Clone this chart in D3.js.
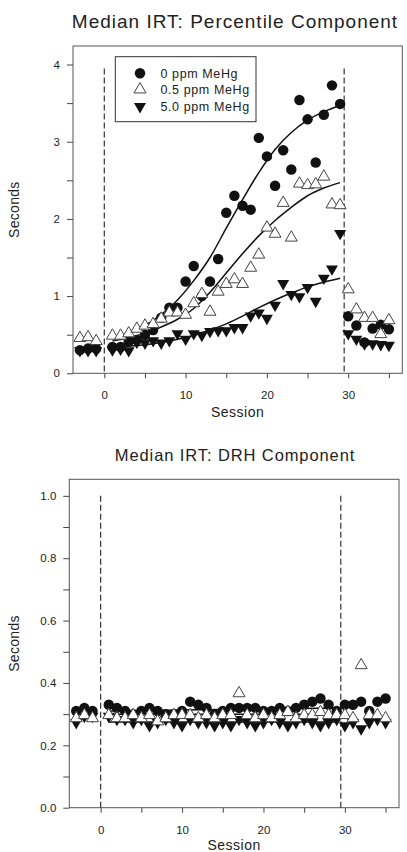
<!DOCTYPE html>
<html>
<head>
<meta charset="utf-8">
<script src="https://cdn.jsdelivr.net/npm/d3@7"></script>
<style>
  body { margin: 0; background: #fff; }
  svg { display: block; font-family: "Liberation Sans", Arial, sans-serif; }
  .tick text { font-size: 11.5px; fill: #222; }
  .tick line { stroke: #444; }
</style>
</head>
<body>
<svg width="407" height="852"></svg>
<script>
// sessions: 3 baseline, 29 exposure, 6 recovery
var sessions = [-3,-2,-1, 1,2,3,4,5,6,7,8,9,10,11,12,13,14,15,16,17,18,19,20,21,22,23,24,25,26,27,28,29, 30,31,32,33,34,35];

// Percentile component, median IRT (s)
var pctControl = [0.30,0.32,0.32, 0.34,0.34,0.41,0.43,0.50,0.56,0.72,0.85,0.85,1.19,1.39,1.00,1.19,1.48,2.08,2.30,2.17,2.12,3.05,2.81,2.43,2.89,2.64,3.54,3.29,2.73,3.35,3.73,3.49, 0.74,0.62,0.40,0.58,0.63,0.57];
var pctLow = [0.47,0.48,0.43, 0.50,0.50,0.53,0.59,0.63,0.65,0.72,0.80,0.80,0.77,0.92,1.04,0.81,1.07,1.17,1.23,1.17,1.38,1.55,1.90,1.82,2.22,1.77,2.47,2.45,2.46,2.56,2.20,2.19, 1.10,0.84,0.73,0.73,0.52,0.70];
var pctHigh = [0.28,0.28,0.28, 0.29,0.30,0.28,0.39,0.38,0.41,0.38,0.41,0.50,0.43,0.50,0.48,0.53,0.54,0.54,0.58,0.58,0.73,0.77,0.70,0.87,1.15,1.01,0.98,1.10,0.92,1.22,1.34,1.80, 0.50,0.43,0.37,0.37,0.36,0.35];

// fitted curves
var fitSessions = [1,3,5,7,9,11,13,15,17,19,21,23,25,27,29];
var fitControl = [0.45,0.52,0.62,0.76,0.95,1.20,1.50,1.88,2.25,2.60,2.90,3.12,3.28,3.39,3.47];
var fitLow = [0.42,0.46,0.52,0.60,0.70,0.84,1.05,1.30,1.55,1.78,1.98,2.15,2.30,2.40,2.47];
var fitHigh = [0.33,0.35,0.37,0.40,0.44,0.49,0.56,0.64,0.74,0.85,0.95,1.04,1.12,1.18,1.23];

// DRH component, median IRT (s)
var drhControl = [0.31,0.32,0.31, 0.33,0.32,0.31,0.30,0.31,0.32,0.31,0.30,0.30,0.31,0.34,0.33,0.32,0.30,0.31,0.32,0.32,0.32,0.32,0.31,0.31,0.32,0.31,0.32,0.33,0.34,0.35,0.33,0.31, 0.33,0.33,0.34,0.31,0.34,0.35];
var drhLow = [0.29,0.30,0.29, 0.30,0.29,0.29,0.30,0.29,0.30,0.28,0.29,0.30,0.30,0.30,0.29,0.30,0.29,0.30,0.30,0.37,0.30,0.29,0.30,0.29,0.30,0.31,0.29,0.30,0.30,0.31,0.30,0.30, 0.30,0.29,0.46,0.30,0.30,0.29];
var drhHigh = [0.27,0.29,0.29, 0.29,0.28,0.28,0.27,0.28,0.26,0.27,0.28,0.27,0.26,0.28,0.27,0.27,0.26,0.27,0.26,0.28,0.27,0.26,0.27,0.28,0.27,0.26,0.27,0.28,0.27,0.26,0.27,0.28, 0.26,0.27,0.25,0.27,0.28,0.27];
var drhFitSessions = [1,29];
var drhFitControl = [0.31,0.32];
var drhFitLow = [0.30,0.30];
var drhFitHigh = [0.275,0.275];

var groups = ["0 ppm MeHg", "0.5 ppm MeHg", "5.0 ppm MeHg"];
var phaseLines = [0, 29.5];
var xTicks = [0,5,10,15,20,25,30,35];
var xLabels = [0,10,20,30];

var svg = d3.select("svg");

var circle = d3.symbol().type(d3.symbolCircle).size(86);
var tri = d3.symbol().type(d3.symbolTriangle).size(62);

function pts(xs, ys) {
  return xs.map(function(x, i) { return [x, ys[i]]; });
}

function drawMarks(g, x, y, kind, data) {
  var sel = g.append("g").selectAll("path").data(data).enter().append("path");
  if (kind == "circle") {
    sel.attr("d", circle).attr("fill", "#111")
      .attr("transform", function(d) { return "translate(" + x(d[0]) + "," + y(d[1]) + ")"; });
  } else if (kind == "open") {
    sel.attr("d", tri).attr("fill", "#fff").attr("stroke", "#444").attr("stroke-width", 1)
      .attr("transform", function(d) { return "translate(" + x(d[0]) + "," + (y(d[1]) + 1) + ")"; });
  } else {
    sel.attr("d", tri).attr("fill", "#111")
      .attr("transform", function(d) { return "translate(" + x(d[0]) + "," + (y(d[1]) - 1) + ") rotate(180)"; });
  }
}

function drawPanel(p) {
  var x = d3.scaleLinear().domain([-3.85, 36.65]).range([p.left, p.right]);
  var y = d3.scaleLinear().domain([0, p.ymax]).range([p.bottom, p.top]);
  var g = svg.append("g");

  g.append("text")
    .attr("x", 235).attr("y", p.titleY)
    .attr("text-anchor", "middle")
    .attr("font-size", p.titleSize).attr("letter-spacing", p.titleSpacing)
    .attr("fill", "#222")
    .text(p.title);

  // axes (ticks only; frame drawn separately)
  var ya = g.append("g").attr("transform", "translate(" + p.left + ",0)")
    .call(d3.axisLeft(y).tickValues(p.yTicks).tickSize(6).tickSizeOuter(0)
      .tickFormat(function(d) { return p.yLabels.indexOf(d) >= 0 ? p.yFmt(d) : ""; }));
  ya.select(".domain").remove();
  ya.selectAll(".tick text").attr("dx", -4);

  var xa = g.append("g").attr("transform", "translate(0," + p.bottom + ")")
    .call(d3.axisBottom(x).tickValues(xTicks).tickSize(5).tickSizeOuter(0)
      .tickFormat(function(d) { return xLabels.indexOf(d) >= 0 ? d : ""; }));
  xa.select(".domain").remove();
  xa.selectAll(".tick text").attr("dy", "1.55em");

  g.append("rect")
    .attr("x", p.left).attr("y", p.top)
    .attr("width", p.right - p.left).attr("height", p.bottom - p.top)
    .attr("fill", "none").attr("stroke", "#555").attr("stroke-width", 1);

  g.selectAll(".phase").data(phaseLines).enter().append("line")
    .attr("x1", function(d) { return x(d); }).attr("x2", function(d) { return x(d); })
    .attr("y1", y(p.dashTop)).attr("y2", p.bottom)
    .attr("stroke", "#333").attr("stroke-width", 1.2).attr("stroke-dasharray", "6,3");

  g.append("text")
    .attr("x", (p.left + p.right) / 2).attr("y", p.xLabelY)
    .attr("text-anchor", "middle").attr("font-size", 14).attr("letter-spacing", 0.5)
    .attr("fill", "#222").text("Session");

  g.append("text")
    .attr("transform", "translate(19," + (p.top + p.bottom) / 2 + ") rotate(-90)")
    .attr("text-anchor", "middle").attr("font-size", 14).attr("letter-spacing", 0.3)
    .attr("fill", "#222").text("Seconds");

  var line = d3.line().curve(d3.curveMonotoneX)
    .x(function(d) { return x(d[0]); }).y(function(d) { return y(d[1]); });
  p.fits.forEach(function(f) {
    g.append("path").datum(pts(p.fitX, f))
      .attr("d", line).attr("fill", "none").attr("stroke", "#111").attr("stroke-width", 1.5);
  });

  drawMarks(g, x, y, "filled", pts(sessions, p.high));
  drawMarks(g, x, y, "circle", pts(sessions, p.control));
  drawMarks(g, x, y, "open", pts(sessions, p.low));
  return g;
}

var topPanel = drawPanel({
  title: "Median IRT: Percentile Component", titleY: 28, titleSize: 19, titleSpacing: 1,
  left: 73, right: 402.3, top: 46, bottom: 373.3, ymax: 4.24,
  yTicks: [0,0.5,1,1.5,2,2.5,3,3.5,4], yLabels: [0,1,2,3,4], yFmt: d3.format("d"),
  dashTop: 3.95, xLabelY: 417,
  control: pctControl, low: pctLow, high: pctHigh,
  fitX: fitSessions, fits: [fitControl, fitLow, fitHigh]
});

drawPanel({
  title: "Median IRT: DRH Component", titleY: 461, titleSize: 16.5, titleSpacing: 0.9,
  left: 69.3, right: 399, top: 479.3, bottom: 807.7, ymax: 1.053,
  yTicks: [0,0.1,0.2,0.3,0.4,0.5,0.6,0.7,0.8,0.9,1.0], yLabels: [0,0.2,0.4,0.6,0.8,1.0], yFmt: d3.format(".1f"),
  dashTop: 1.0, xLabelY: 850,
  control: drhControl, low: drhLow, high: drhHigh,
  fitX: drhFitSessions, fits: [drhFitControl, drhFitLow, drhFitHigh]
});

// legend (top panel only)
var leg = topPanel.append("g");
leg.append("rect").attr("x", 115.3).attr("y", 56.7).attr("width", 140.7).attr("height", 65)
  .attr("fill", "#fff").attr("stroke", "#333").attr("stroke-width", 1);
var legY = [73.3, 89.5, 106.5];
var kinds = ["circle", "open", "filled"];
groups.forEach(function(name, i) {
  var s = leg.append("path");
  if (kinds[i] == "circle") s.attr("d", circle).attr("fill", "#111").attr("transform", "translate(140," + legY[i] + ")");
  else if (kinds[i] == "open") s.attr("d", tri).attr("fill", "#fff").attr("stroke", "#444").attr("transform", "translate(140," + legY[i] + ")");
  else s.attr("d", tri).attr("fill", "#111").attr("transform", "translate(140," + legY[i] + ") rotate(180)");
  leg.append("text").attr("x", 160.5).attr("y", legY[i] + 4.5)
    .attr("font-size", 12.5).attr("letter-spacing", 0.6).attr("fill", "#222").text(name);
});
</script>
</body>
</html>
